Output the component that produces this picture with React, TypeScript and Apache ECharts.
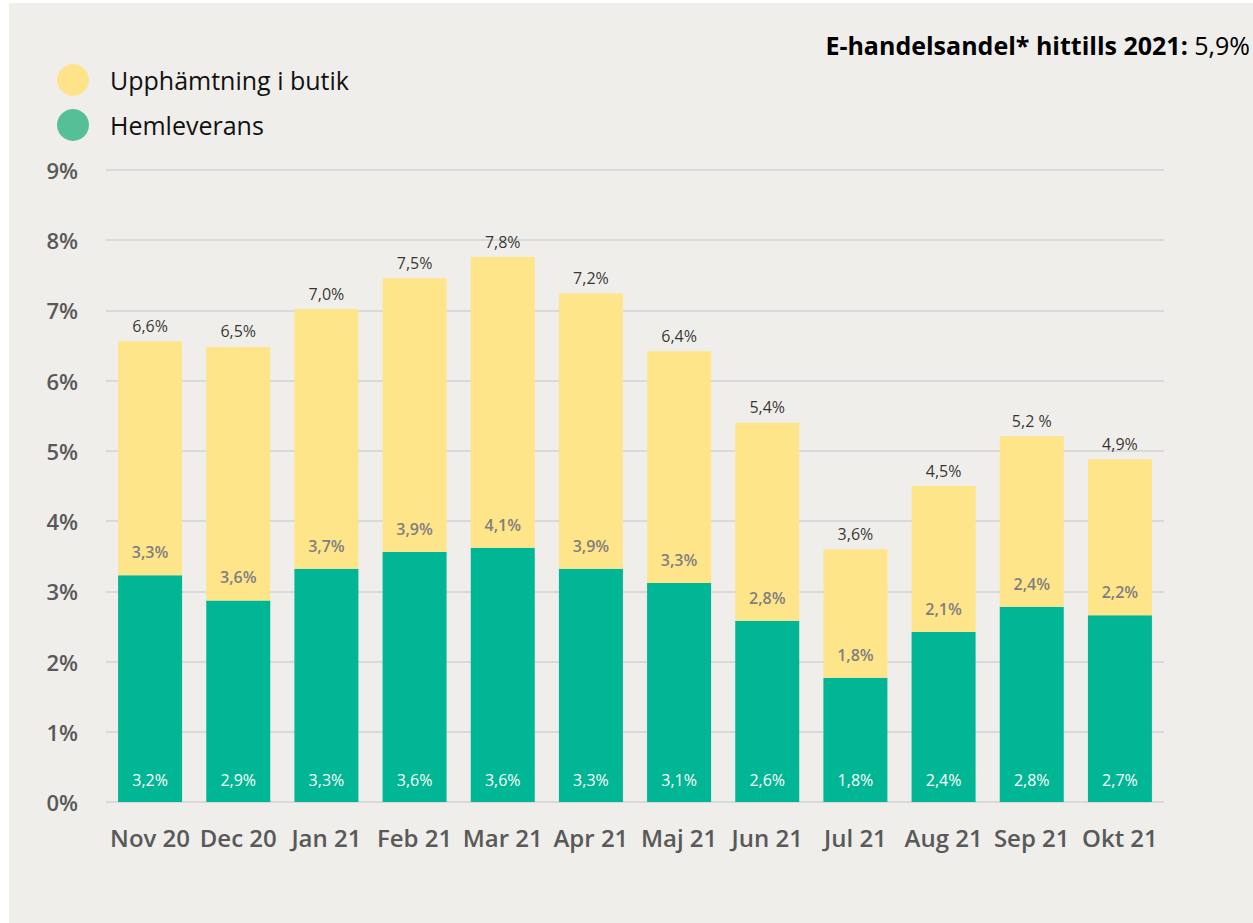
import React, { useEffect, useRef } from "react";
import * as echarts from "echarts";

const categories = ["Nov 20", "Dec 20", "Jan 21", "Feb 21", "Mar 21", "Apr 21", "Maj 21", "Jun 21", "Jul 21", "Aug 21", "Sep 21", "Okt 21"];
const hemleverans = [3.23, 2.87, 3.32, 3.56, 3.62, 3.32, 3.12, 2.58, 1.77, 2.42, 2.78, 2.66];
const upphamtning = [3.33, 3.61, 3.70, 3.90, 4.14, 3.92, 3.30, 2.82, 1.83, 2.08, 2.43, 2.22];
const totalLabels = ["6,6%", "6,5%", "7,0%", "7,5%", "7,8%", "7,2%", "6,4%", "5,4%", "3,6%", "4,5%", "5,2 %", "4,9%"];
const yTicks = [0, 1, 2, 3, 4, 5, 6, 7, 8, 9];
const headline = { label: "E-handelsandel* hittills 2021:", value: "5,9%" };

const FONT = "'Open Sans', 'Noto Sans', sans-serif";
const fmt = (v: number) => v.toFixed(1).replace(".", ",") + "%";

export default function App() {
  const ref = useRef<HTMLDivElement>(null);
  useEffect(() => {
    if (!ref.current) return;
    const chart = echarts.init(ref.current, undefined, { renderer: "svg" });
    const totals = hemleverans.map((g, i) => g + upphamtning[i]);
    chart.setOption({
      animation: false,
      backgroundColor: "#efeeea",
      textStyle: { fontFamily: FONT },
      title: {
        right: 3,
        top: 29,
        padding: 0,
        text: `{b|${headline.label}}{r| ${headline.value}}`,
        textStyle: {
          rich: {
            b: { fontFamily: FONT, fontSize: 25, fontWeight: "bold", color: "#000" },
            r: { fontFamily: FONT, fontSize: 25, fontWeight: "normal", color: "#000" },
          },
        },
      },
      legend: {
        orient: "vertical",
        left: 48,
        top: 61,
        padding: 0,
        itemWidth: 32,
        itemHeight: 32,
        itemGap: 13,
        icon: "circle",
        textStyle: { fontFamily: FONT, fontSize: 25, color: "#111", padding: [0, 0, 0, 16] },
        data: [
          { name: "Upphämtning i butik", itemStyle: { color: "#ffe38a" } },
          { name: "Hemleverans", itemStyle: { color: "#55bf95" } },
        ],
      },
      grid: { left: 97, right: 89, top: 167, bottom: 121, containLabel: false },
      xAxis: {
        type: "category",
        data: categories,
        axisLine: { show: false },
        axisTick: { show: false },
        axisLabel: { interval: 0, margin: 23, fontFamily: FONT, fontSize: 24, fontWeight: 600, color: "#595959" },
      },
      yAxis: {
        type: "value",
        min: yTicks[0],
        max: yTicks[yTicks.length - 1],
        interval: 1,
        axisLine: { show: false },
        axisTick: { show: false },
        splitLine: { lineStyle: { color: "#d9d9d9", width: 2 } },
        axisLabel: { margin: 28, fontFamily: FONT, fontSize: 22, fontWeight: 600, color: "#595959", formatter: "{value}%" },
      },
      series: [
        {
          name: "Hemleverans",
          type: "bar",
          stack: "total",
          barWidth: 64,
          data: hemleverans,
          itemStyle: { color: "#00b694" },
          label: {
            show: true,
            position: "insideBottom",
            distance: 14,
            fontFamily: FONT,
            fontSize: 16,
            color: "#fff",
            formatter: (p: any) => fmt(p.value),
          },
        },
        {
          name: "Upphämtning i butik",
          type: "bar",
          stack: "total",
          barWidth: 64,
          data: upphamtning,
          itemStyle: { color: "#ffe58a" },
          label: {
            show: true,
            position: "insideBottom",
            distance: 15,
            fontFamily: FONT,
            fontSize: 16,
            fontWeight: 600,
            color: "#7f7f7f",
            formatter: (p: any) => fmt(p.value),
          },
        },
        {
          name: "Total",
          type: "scatter",
          data: totals,
          symbolSize: 1,
          silent: true,
          itemStyle: { color: "rgba(0,0,0,0)" },
          label: {
            show: true,
            position: "top",
            distance: 7,
            fontFamily: FONT,
            fontSize: 16,
            color: "#000",
            formatter: (p: any) => totalLabels[p.dataIndex],
          },
        },
      ],
    });
    return () => chart.dispose();
  }, []);
  return (
    <div style={{ position: "fixed", left: 0, top: 0, width: 1253, height: 923, background: "#fff" }}>
      <div ref={ref} style={{ position: "absolute", left: 9, top: 3, width: 1244, height: 920 }} />
    </div>
  );
}
